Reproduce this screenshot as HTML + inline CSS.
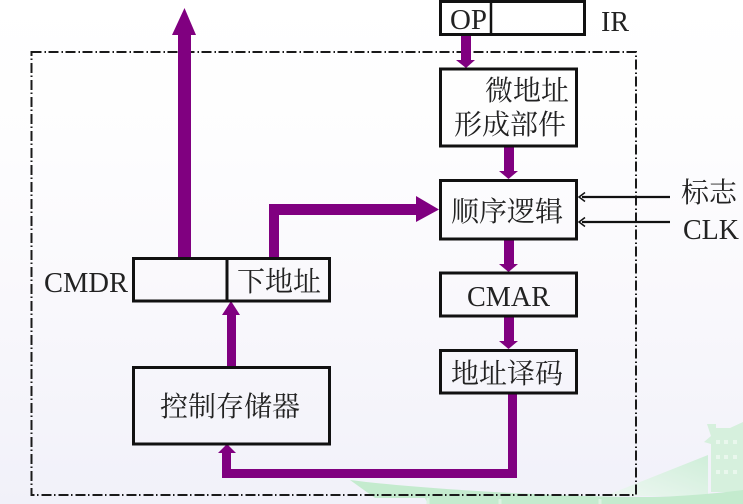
<!DOCTYPE html>
<html lang="zh">
<head>
<meta charset="utf-8">
<style>
html,body{margin:0;padding:0;background:#fff}
svg{display:block}
text{font-family:"Liberation Serif","Noto Serif CJK SC",serif;fill:#222}
</style>
</head>
<body>
<svg xmlns="http://www.w3.org/2000/svg" width="743" height="504" viewBox="0 0 743 504">
<defs>
<linearGradient id="bg" x1="0" y1="0" x2="0" y2="1">
<stop offset="0" stop-color="#ffffff"/>
<stop offset="0.3" stop-color="#fdfdfe"/>
<stop offset="0.6" stop-color="#f9f8fc"/>
<stop offset="1" stop-color="#f1f1f9"/>
</linearGradient>
<linearGradient id="wedge" x1="0" y1="1" x2="1" y2="0">
<stop offset="0" stop-color="#eef7f2"/>
<stop offset="1" stop-color="#cfeed9"/>
</linearGradient>
</defs>
<rect width="743" height="504" fill="url(#bg)"/>

<!-- green background decoration -->
<path d="M605 496 L708 455 V496 Z" fill="url(#wedge)"/>
<path d="M707 424 H716 V428 L730 428 L743 422 V492 H711 V444 L704 442 L711 436 Z" fill="#d6f0dd"/>
<g fill="#e9f7ed">
<rect x="716" y="440" width="4" height="4"/><rect x="724" y="440" width="4" height="4"/><rect x="733" y="440" width="4" height="4"/>
<rect x="716" y="455" width="4" height="4"/><rect x="724" y="455" width="4" height="4"/><rect x="733" y="455" width="4" height="4"/>
<rect x="716" y="470" width="4" height="4"/><rect x="724" y="470" width="4" height="4"/><rect x="733" y="470" width="4" height="4"/>
</g>
<path d="M350 480 C420 489 560 497 640 497 C680 497 720 493 743 490 V504 H428 L425 498 H375 Z" fill="#c4ebce"/>
<path d="M428 498 V504 M500 499 V504 M600 499 V504" stroke="#dcf3e2" stroke-width="3"/>

<!-- dash-dot frame -->
<rect x="31.500" y="52" width="604.500" height="443" fill="none" stroke="#1a1a1a" stroke-width="2" stroke-dasharray="10 3 1.500 2.500"/>

<!-- purple arrows -->
<g fill="#800080">
<path d="M178 258 V35 H172 L184.500 8 L196 35 H191 V258 Z"/>
<path d="M269 258 V204 H416 V196 L439 209.500 L416 222 V215 H279 V258 Z"/>
<path d="M461 35 H471 V60 H475 L466 68 L456 60 H461 Z"/>
<path d="M504 146 H514 V171 H518 L508.500 179 L499 171 H504 Z"/>
<path d="M504 240 H514 V264 H518 L508.500 272 L499 264 H504 Z"/>
<path d="M504 317 H514 V341 H518 L508.500 349 L499 341 H504 Z"/>
<path d="M508 394 H517 V478 H222 V453 H218 L227 444 L236 453 H231 V469 H508 Z"/>
<path d="M227 367 V315 H222 L231 301 L240 315 H236 V367 Z"/>
</g>

<!-- boxes -->
<g fill="none" stroke="#111" stroke-width="3">
<rect x="440.500" y="1.500" width="144" height="33"/>
<path d="M491 1 V35" stroke-width="2.500"/>
<rect x="440.500" y="69" width="136" height="77"/>
<rect x="440.500" y="180.500" width="136" height="58.500"/>
<rect x="440.500" y="273" width="136" height="43"/>
<rect x="440.500" y="350.500" width="136" height="42.500"/>
<rect x="133.500" y="258.500" width="196" height="42.500"/>
<path d="M227 258 V302"/>
<rect x="133.500" y="367.500" width="196" height="76.500"/>
</g>

<!-- thin input arrows -->
<g fill="none" stroke="#111" stroke-width="2.200">
<path d="M670 197 H582"/>
<path d="M670 222 H582"/>
<path d="M585 192.500 L579 197 L585 201.500" stroke-width="1.500"/>
<path d="M585 217.500 L579 222 L585 226.500" stroke-width="1.500"/>
</g>

<!-- labels -->
<text x="450" y="29" font-size="28" textLength="37" lengthAdjust="spacingAndGlyphs">OP</text>
<text x="601" y="31" font-size="28">IR</text>
<text x="485" y="100" font-size="28">微地址</text>
<text x="454" y="134" font-size="28">形成部件</text>
<text x="451" y="221" font-size="28">顺序逻辑</text>
<text x="681" y="202" font-size="28">标志</text>
<text x="683" y="239" font-size="28">CLK</text>
<text x="467" y="306" font-size="28" textLength="83" lengthAdjust="spacingAndGlyphs">CMAR</text>
<text x="451" y="383" font-size="28">地址译码</text>
<text x="44" y="292" font-size="28" textLength="84" lengthAdjust="spacingAndGlyphs">CMDR</text>
<text x="237" y="291" font-size="28">下地址</text>
<text x="160" y="416" font-size="28">控制存储器</text>
</svg>
</body>
</html>
